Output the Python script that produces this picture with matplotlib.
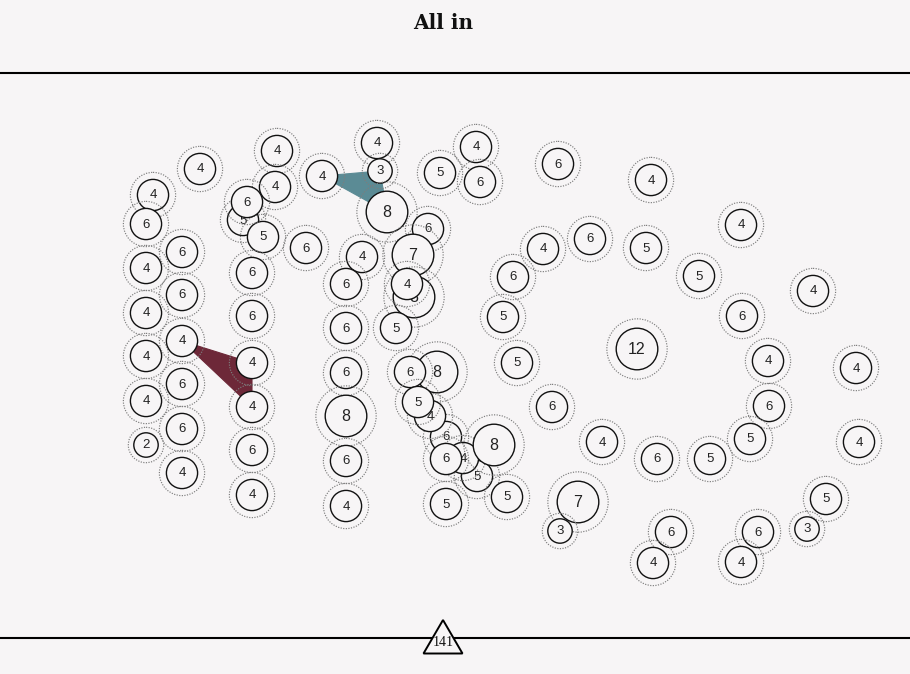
import matplotlib
matplotlib.use("Agg")
import matplotlib.pyplot as plt
from matplotlib.patches import Circle, Polygon

# ---- data (node positions in chart pixels, value per node) ----
node_x = [153, 146, 146, 146, 146, 146, 146,
          200, 182, 182, 182, 182, 182, 182,
          277, 275, 243, 263, 247, 306, 252, 252, 252, 252, 252, 252,
          322, 377, 380, 387, 362, 346, 346, 346, 346, 346, 346,
          440, 476, 480, 428, 413, 414, 407, 396,
          437, 410, 446, 430, 418, 477, 463, 494, 446, 446, 507,
          558, 651, 741, 543, 590, 646, 513, 699, 813, 503, 742,
          637, 517, 768, 856, 552, 769, 750, 602, 657, 710, 859,
          578, 560, 826, 671, 758, 807, 653, 741]
node_y = [195, 224, 268, 313, 356, 401, 445,
          169, 252, 295, 341, 384, 429, 473,
          151, 187, 220, 237, 202, 248, 273, 316, 363, 407, 450, 495,
          176, 143, 171, 212, 257, 284, 328, 373, 416, 461, 506,
          173, 147, 182, 229, 255, 297, 284, 328,
          372, 372, 437, 416, 402, 476, 458, 445, 459, 504, 497,
          164, 180, 225, 249, 239, 248, 277, 276, 291, 317, 316,
          349, 363, 361, 368, 407, 406, 439, 442, 459, 459, 442,
          502, 531, 499, 532, 532, 529, 563, 562]
node_val = [4, 6, 4, 4, 4, 4, 2,
            4, 6, 6, 4, 6, 6, 4,
            4, 4, 5, 5, 6, 6, 6, 6, 4, 4, 6, 4,
            4, 4, 3, 8, 4, 6, 6, 6, 8, 6, 4,
            5, 4, 6, 6, 7, 8, 4, 5,
            8, 6, 6, 4, 5, 5, 4, 8, 6, 5, 5,
            6, 4, 4, 4, 6, 5, 6, 5, 4, 5, 6,
            12, 5, 4, 4, 6, 6, 5, 4, 6, 5, 4,
            7, 3, 5, 6, 6, 3, 4, 4]

# groups drawn as filled polygons (indices into node lists)
group_members = [[10, 22, 23], [26, 28, 29]]
group_colors = ["#6d2838", "#5b8b95"]

title = "All in"
total_label = "141"

BG = "#f7f5f6"

def radius(v):
    if v <= 3:
        return 12.2
    if v <= 6:
        return 15.6
    return 20.8

fig = plt.figure(figsize=(9.1, 6.74), dpi=100, facecolor=BG)
ax = fig.add_axes([0, 0, 1, 1])
ax.set_facecolor(BG)
ax.set_xlim(0, 910)
ax.set_ylim(674, 0)
ax.set_aspect("equal")
ax.axis("off")

# separators
ax.plot([0, 910], [72.5, 72.5], color="black", lw=1.5, zorder=1,
        solid_capstyle="butt")
ax.plot([0, 910], [637.5, 637.5], color="black", lw=1.5, zorder=1,
        solid_capstyle="butt")

# group polygons
for members, col in zip(group_members, group_colors):
    pts = [(node_x[i], node_y[i]) for i in members]
    ax.add_patch(Polygon(pts, closed=True, facecolor=col, edgecolor=col,
                         lw=0.8, zorder=2))

# nodes, each drawn as a group (ring, circle, label) in data order
z = 3.0
for x, y, v in zip(node_x, node_y, node_val):
    r = radius(v)
    ax.add_patch(Circle((x, y), r * 1.45, facecolor="none",
                        edgecolor="#7d7d7d", lw=0.85,
                        linestyle=(0, (1, 1.2)), zorder=z))
    ax.add_patch(Circle((x, y), r, facecolor=BG, edgecolor="#111111",
                        lw=1.0, zorder=z + 0.001))
    fs = 11.5 if v >= 7 else 9.5
    ax.text(x, y + 0.5, str(v), ha="center", va="center", fontsize=fs,
            family="Liberation Sans", color="#222222", zorder=z + 0.002)
    z += 0.01

# title
ax.text(443, 23, title, ha="center", va="center", fontsize=14.5,
        family="DejaVu Serif", fontweight="heavy",
        color="#111111")

# total marker
ax.add_patch(Polygon([(443, 620), (423.5, 653.5), (462.5, 653.5)],
                     closed=True, facecolor=BG, edgecolor="black", lw=1.4,
                     zorder=10, joinstyle="miter"))
ax.text(443, 642, total_label, ha="center", va="center", fontsize=10,
        family="Liberation Serif", color="#111111", zorder=11)

fig.savefig("out.png", dpi=100, facecolor=BG)
